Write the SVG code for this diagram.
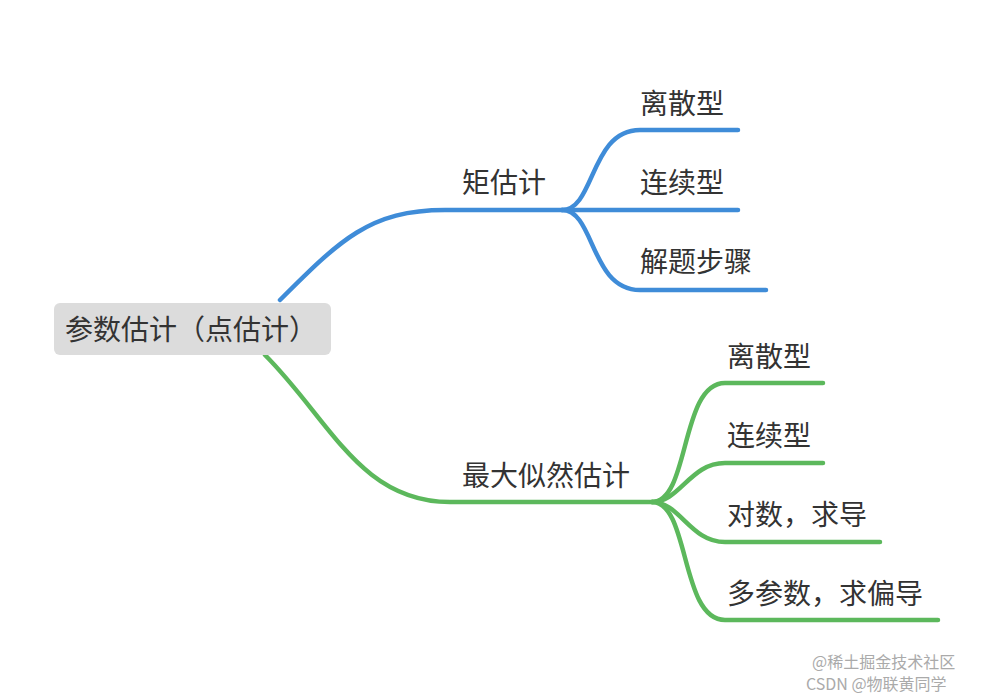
<svg xmlns="http://www.w3.org/2000/svg" width="990" height="698" viewBox="0 0 990 698">
<style>
text{font-family:"Noto Sans CJK SC","Noto Sans",sans-serif;font-size:28px;fill:#333}
.b{fill:none;stroke:#3f8cd8;stroke-width:4.5;stroke-linecap:round}
.g{fill:none;stroke:#5cb85c;stroke-width:4.5;stroke-linecap:round}
.w{font-size:16px;fill:#aaa}
</style>
<rect width="990" height="698" fill="#fff"/>
<g id="connectors">
<path class="b" d="M280,300 C340,240 370,210 445,210 L562,210"/>
<path class="b" d="M562,210 C595,210 590,130 640,130 L738,130"/>
<path class="b" d="M562,210 L738,210"/>
<path class="b" d="M562,210 C595,210 590,290 640,290 L766,290"/>
<path class="g" d="M265,355 C330,420 360,502 450,502 L652,502"/>
<path class="g" d="M652,502 C690,502 680,383 725,383 L823,383"/>
<path class="g" d="M652,502 C680,502 690,463 725,463 L823,463"/>
<path class="g" d="M652,502 C680,502 690,542 725,542 L880,542"/>
<path class="g" d="M652,502 C690,502 680,620 725,620 L938,620"/>
</g>
<g id="root"><rect x="54" y="303" width="277" height="52" rx="6" fill="#dcdcdc"/><text x="65" y="340">参数估计（点估计）</text></g>
<g id="n1"><text x="462" y="193">矩估计</text></g>
<g id="n11"><text x="640" y="114">离散型</text></g>
<g id="n12"><text x="640" y="193">连续型</text></g>
<g id="n13"><text x="640" y="272">解题步骤</text></g>
<g id="n2"><text x="462" y="486">最大似然估计</text></g>
<g id="n21"><text x="727" y="367">离散型</text></g>
<g id="n22"><text x="727" y="446">连续型</text></g>
<g id="n23"><text x="727" y="525">对数，求导</text></g>
<g id="n24"><text x="727" y="604">多参数，求偏导</text></g>
<text class="w" x="812" y="668">@稀土掘金技术社区</text>
<text class="w" x="806" y="690">CSDN @物联黄同学</text>
</svg>
